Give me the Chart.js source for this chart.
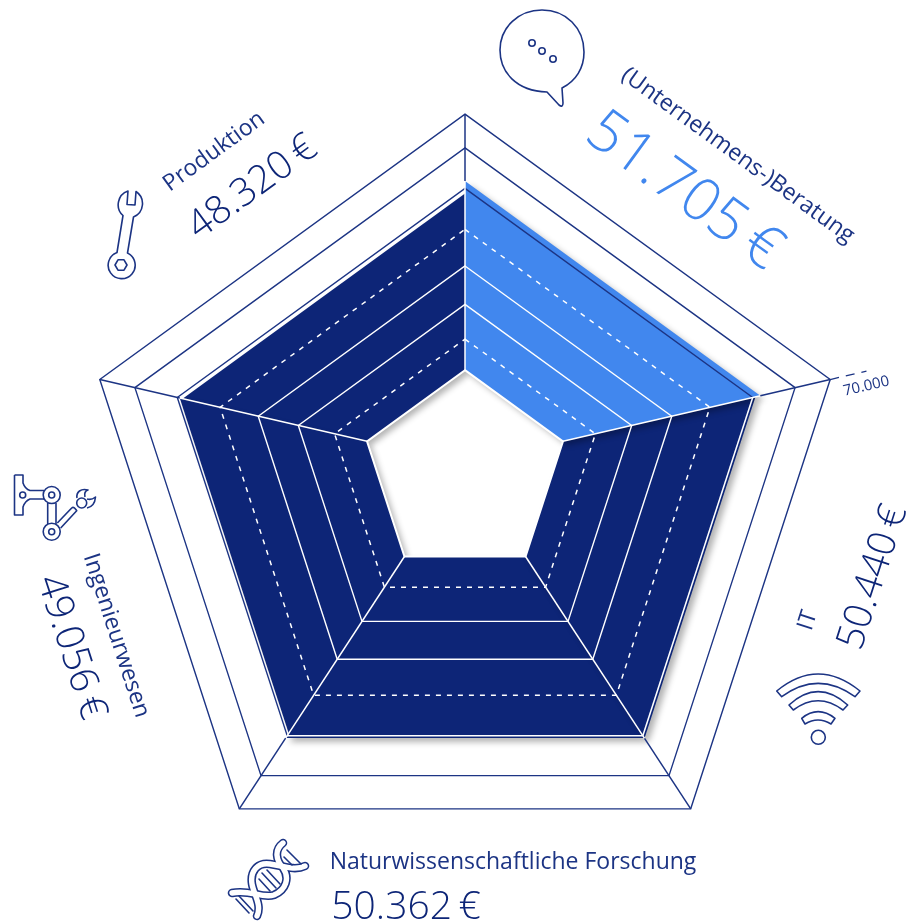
<!DOCTYPE html>
<html lang="de">
<head>
<meta charset="utf-8">
<title>Gehälter nach Branche</title>
<script src="https://cdn.jsdelivr.net/npm/chart.js@4"></script>
<style>
    html, body { margin: 0; padding: 0; background: #fff; }
    #wrap { position: relative; width: 909px; height: 923px; overflow: hidden; font-family: "Open Sans", sans-serif; color: #0d2577; }
    canvas { position: absolute; left: 0; top: 0; }
    .txt { position: absolute; white-space: nowrap; transform: translate(-50%, -50%) rotate(var(--rot)); line-height: 1; }
    .name { font-size: 23px; font-weight: 400; color: #1c3484; }
    .num { font-size: 39px; font-weight: 300; }
    .big { font-size: 59px; font-weight: 300; color: #4187ee; }
    .tick { font-size: 15px; font-weight: 400; color: #1c3484; }
    svg.icons { position: absolute; left: 0; top: 0; }
    svg.icons * { fill: none; stroke: #1c3484; stroke-width: 1.6; stroke-linejoin: round; }
</style>
</head>
<body>
<div id="wrap">
    <canvas id="myChart" width="909" height="923"></canvas>
    <svg class="icons" width="909" height="923">
        <!-- speech bubble -->
        <path d="M547 92 C516 91 500 72 500 50 C500 27 519 10 542 10 C566 10 584 28 584 52 C584 68 576 81 562 88 L563 103 Q563 108 559 105 Z"/>
        <circle cx="532" cy="43" r="3.2"/><circle cx="542" cy="51" r="3.2"/><circle cx="553" cy="59" r="3.2"/>
        <!-- wrench -->
        <path d="M123 215.5 A14.5 14.5 0 0 1 128 191 L127 204.5 L135 205 L136 191.5 A14.5 14.5 0 0 1 133.5 217 L127.5 253 A13.5 13.5 0 1 1 117 252.5 Z"/>
        <path d="M115 265 L118 259.8 L124 259.8 L127 265 L124 270.2 L118 270.2 Z"/>
        <!-- robot arm -->
        <path d="M14.5 475 H23 V483 Q25 489 30 490.5 H44 M44 499 H30 Q25 501 23 507 V515 H14.5 V475"/>
        <circle cx="22.7" cy="495" r="3"/>
        <circle cx="51.7" cy="495" r="8.5"/><circle cx="51.7" cy="495" r="3"/>
        <path d="M47.7 503 V524 M56 503 V524"/>
        <circle cx="51.7" cy="531.7" r="8.5"/><circle cx="51.7" cy="531.7" r="3"/>
        <path d="M57.3 523 L71.7 508 Q74 506 76.7 510.7 L60.7 528"/>
        <circle cx="81.7" cy="503" r="5"/>
        <path d="M77 498 C76 492 81 488 88 490 C85 491 84 493 85 497 M87 508 C92 507 95 503 95.5 497 C93 499 90 500 87 499"/>
        <!-- wifi -->
        <path d="M776.7 691 Q818 657 860 691 L855 696.7 Q818 670 781.7 696.7 Z"/>
        <path d="M789 705 Q818 678.4 847.7 705 L843 710 Q818 691.4 793.3 710 Z"/>
        <path d="M801.7 718.3 Q818 705 835 718.3 L831 724 Q818 716 805 724 Z"/>
        <circle cx="818.3" cy="737.3" r="7"/>
        <!-- dna -->
        <g style="stroke-linecap:round">
            <path d="M283 843 C274 850 276 860 283 868 C290 878 286 890 274 895 C262 899 250 889 232 893" style="stroke-width:8.5"/>
            <path d="M305 866 C295 871 283 866 270 864 C257 862 250 872 252 884 C254 895 262 905 257 916" style="stroke-width:8.5"/>
            <path d="M283 843 C274 850 276 860 283 868 C290 878 286 890 274 895 C262 899 250 889 232 893" style="stroke:#fff;stroke-width:5.4"/>
            <path d="M305 866 C295 871 283 866 270 864 C257 862 250 872 252 884 C254 895 262 905 257 916" style="stroke:#fff;stroke-width:5.4"/>
            <path d="M287 850 L301 864 M284 857 L292 865 M262 873 L276 888 M259 879 L270 891 M267 870 L280 884 M239 896 L253 911 M236 899 L249 913"/>
        </g>
    </svg>
    <div id="labels"></div>
</div>

<script>
    "use strict";

    var categories = ['(Unternehmens-)Beratung', 'IT', 'Naturwissenschaftliche Forschung', 'Ingenieurwesen', 'Produktion'];
    var salaries = [51705, 50440, 50362, 49056, 48320];
    var ringValues = [0, 8500, 18000, 28500, 38500, 49700, 60800, 70000];
    var dashedRings = [8500, 38500];
    var darkRings = [49700, 60800, 70000];
    var scaleTop = 70000;
    var tickLabel = '70.000';

    var navy = '#0d2577';
    var lineBlue = '#1c3484';
    var lightBlue = '#4187ee';

    // the artwork's rings slide down as they grow, so the scale has to do that too
    class DriftRadialScale extends Chart.RadialLinearScale {
        getPointPosition(index, distance, additionalAngle) {
            var p = super.getPointPosition(index, distance, additionalAngle);
            p.y += distance * 0.089;
            return p;
        }
    }
    DriftRadialScale.id = 'driftRadial';
    Chart.register(DriftRadialScale);

    // every sector is flat: one value on both of its spokes
    function sectorData(i) {
        return categories.map(function (c, k) {
            return (k === i || k === (i + 1) % categories.length) ? salaries[i] : null;
        });
    }

    var sectors = categories.map(function (c, i) {
        return {
            label: c,
            data: sectorData(i),
            fill: { value: 0 },
            backgroundColor: i === 0 ? lightBlue : navy,
            borderColor: 'transparent',
            borderWidth: 0,
            pointRadius: 0,
            spanGaps: false
        };
    });

    var sectorShadow = {
        id: 'sectorShadow',
        beforeDatasetsDraw: function (chart) {
            var ctx = chart.ctx;
            ctx.save();
            ctx.shadowColor = 'rgba(0, 0, 0, 0.3)';
            ctx.shadowBlur = 6;
            ctx.shadowOffsetX = 4;
            ctx.shadowOffsetY = 4;
        },
        afterDatasetsDraw: function (chart) {
            chart.ctx.restore();
        }
    };

    var spokes = {
        id: 'spokes',
        afterDraw: function (chart) {
            var ctx = chart.ctx;
            var scale = chart.scales.r;
            var n = categories.length;

            function seg(i, from, to, color, width, dash) {
                var a = scale.getPointPositionForValue(i, from);
                var b = scale.getPointPositionForValue(i, to);
                ctx.beginPath();
                ctx.setLineDash(dash || []);
                ctx.strokeStyle = color;
                ctx.lineWidth = width;
                ctx.moveTo(a.x, a.y);
                ctx.lineTo(b.x, b.y);
                ctx.stroke();
            }

            ctx.save();
            // ring at the top of the dark sectors that reach past it is white
            salaries.forEach(function (v, i) {
                if (i === 0 || v <= 49700) return;
                var a = scale.getPointPositionForValue(i, 49700);
                var b = scale.getPointPositionForValue((i + 1) % n, 49700);
                ctx.beginPath();
                ctx.strokeStyle = '#fff';
                ctx.lineWidth = 1.5;
                ctx.moveTo(a.x, a.y);
                ctx.lineTo(b.x, b.y);
                ctx.stroke();
            });
            for (var i = 0; i < n; i++) {
                var top = Math.max(salaries[i], salaries[(i + n - 1) % n]);
                seg(i, 0, top, '#fff', 1.5);
                seg(i, top, scaleTop, lineBlue, 1.5);
            }
            seg(1, scaleTop, 79500, lineBlue, 1.3, [9, 7]);
            ctx.restore();
        }
    };

    new Chart(document.getElementById('myChart').getContext('2d'), {
        type: 'radar',
        data: { labels: categories, datasets: sectors },
        options: {
            responsive: false,
            animation: false,
            layout: { padding: { left: 81, right: 60, top: 80, bottom: 75 } },
            plugins: { legend: { display: false }, tooltip: { enabled: false } },
            scales: {
                r: {
                    type: 'driftRadial',
                    min: -25658,
                    max: scaleTop,
                    afterBuildTicks: function (scale) {
                        scale.ticks = ringValues.map(function (v) { return { value: v }; });
                    },
                    angleLines: { display: false },
                    pointLabels: { display: false },
                    ticks: { display: false },
                    grid: {
                        z: 1,
                        lineWidth: function (ctx) {
                            if (ctx.tick.value === 0) return 2;
                            return dashedRings.indexOf(ctx.tick.value) >= 0 ? 1.5 : 1.4;
                        },
                        color: function (ctx) {
                            return darkRings.indexOf(ctx.tick.value) >= 0 ? lineBlue : '#fff';
                        }
                    },
                    border: {
                        dash: function (ctx) {
                            return dashedRings.indexOf(ctx.tick.value) >= 0 ? [5, 6] : [];
                        }
                    }
                }
            }
        },
        plugins: [sectorShadow, spokes]
    });

    // rotated labels
    function euro(v) {
        return String(v).replace(/(\d)(\d{3})$/, '$1.$2') + '\u2009€';
    }

    var nameSpots = [[739, 154, 36], [806, 620, -72], [513, 860, 0], [118, 635, 72], [213, 150, -36]];
    var numSpots = [[687, 187, 36], [869, 576, -72], [406, 903, 0], [75, 646, 72], [250, 184, -36]];

    function addText(text, cls, spot) {
        var d = document.createElement('div');
        d.className = 'txt ' + cls;
        d.textContent = text;
        d.style.left = spot[0] + 'px';
        d.style.top = spot[1] + 'px';
        d.style.setProperty('--rot', spot[2] + 'deg');
        document.getElementById('labels').appendChild(d);
    }

    categories.forEach(function (c, i) {
        addText(c, 'name', nameSpots[i]);
        addText(euro(salaries[i]), i === 0 ? 'big' : 'num', numSpots[i]);
    });
    addText(tickLabel, 'tick', [866, 385, -13]);
</script>
</body>
</html>
